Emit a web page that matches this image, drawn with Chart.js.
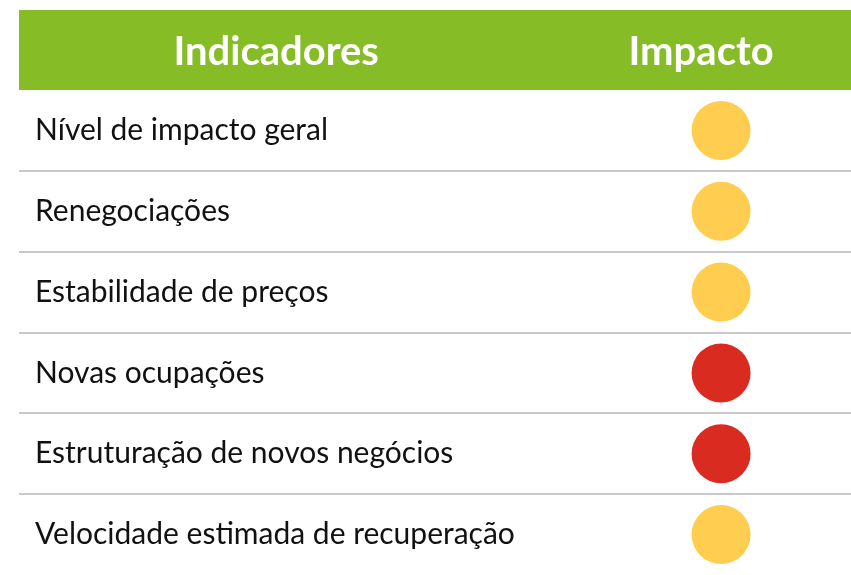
<!DOCTYPE html>
<html>
<head>
<meta charset="utf-8">
<script src="https://cdn.jsdelivr.net/npm/chart.js@4.4.1/dist/chart.umd.min.js"></script>
<style>
  html, body { margin: 0; padding: 0; background: #ffffff; }
  #wrap { width: 851px; height: 575px; }
</style>
</head>
<body>
<div id="wrap"><canvas id="impactChart" width="851" height="575"></canvas></div>
<script>
const columns = ['Indicadores', 'Impacto'];
const indicators = [
  'Nível de impacto geral',
  'Renegociações',
  'Estabilidade de preços',
  'Novas ocupações',
  'Estruturação de novos negócios',
  'Velocidade estimada de recuperação'
];
const impactLevels = ['moderado', 'moderado', 'moderado', 'alto', 'alto', 'moderado'];

const levelColors = {
  moderado: '#ffcd50',
  alto: '#d92b1f'
};

const impactCol = columns.indexOf('Impacto');

// green header band with the column titles
const headerBand = {
  id: 'headerBand',
  beforeDraw(chart) {
    const { ctx, chartArea, scales } = chart;
    ctx.save();
    ctx.fillStyle = '#86bc25';
    ctx.fillRect(chartArea.left, 10, chartArea.right - chartArea.left, chartArea.top - 10);
    ctx.fillStyle = '#ffffff';
    ctx.font = 'bold 40px Lato';
    ctx.textAlign = 'center';
    ctx.textBaseline = 'middle';
    columns.forEach((name, i) => {
      const shift = i === impactCol ? -20 : 0;
      ctx.fillText(name, scales.x.getPixelForValue(i) + shift, (10 + chartArea.top) / 2 + 2);
    });
    ctx.restore();
  }
};

new Chart(document.getElementById('impactChart').getContext('2d'), {
  type: 'scatter',
  data: {
    datasets: [{
      label: 'Impacto',
      data: indicators.map((name) => ({ x: impactCol, y: name })),
      pointRadius: 29.5,
      pointHoverRadius: 29.5,
      pointBorderWidth: 0,
      pointBackgroundColor: impactLevels.map((lvl) => levelColors[lvl]),
    }]
  },
  options: {
    responsive: false,
    animation: false,
    events: [],
    layout: {
      autoPadding: false,
      padding: { top: 90, left: 19, right: 0, bottom: 0 }
    },
    scales: {
      x: {
        type: 'linear',
        min: -0.578,
        max: 1.292,
        display: false
      },
      y: {
        type: 'category',
        labels: indicators,
        offset: true,
        border: { display: false },
        grid: {
          offset: true,
          drawTicks: false,
          lineWidth: 2,
          // only the lines between rows, not the top/bottom edges
          color: (c) => (c.index > 0 && c.index < indicators.length) ? '#c9c9c9' : 'rgba(0,0,0,0)'
        },
        ticks: {
          mirror: true,
          padding: 16,
          color: '#111111',
          font: { family: 'Lato', size: 30 }
        },
        // labels sit inside the table, so the axis takes no room
        afterFit(scale) {
          scale.width = 0;
          scale.paddingTop = 0;
          scale.paddingBottom = 0;
        }
      }
    },
    plugins: {
      legend: { display: false },
      tooltip: { enabled: false }
    }
  },
  plugins: [headerBand]
});
</script>
</body>
</html>
